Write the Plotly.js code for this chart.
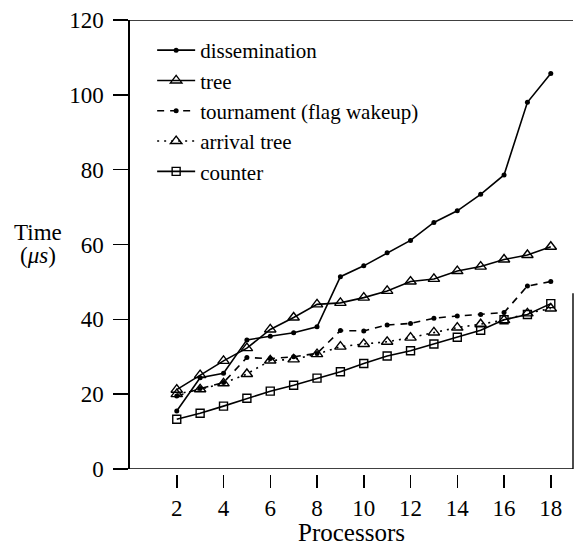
<!DOCTYPE html>
<html>
<head>
<meta charset="utf-8">
<script src="https://cdn.plot.ly/plotly-3.0.1.min.js"></script>
<style>html,body{margin:0;padding:0;background:#fff;}#chart{width:576px;height:546px;}</style>
</head>
<body>
<div id="chart"></div>
<script>
const processors = [2,3,4,5,6,7,8,9,10,11,12,13,14,15,16,17,18];
const dissemination = [15.5,24.4,25.6,34.5,35.5,36.4,38.0,51.4,54.3,57.8,61.1,65.9,69.0,73.4,78.6,98.0,105.7];
const tree = [21.2,25.1,28.9,32.3,37.3,40.5,44.0,44.4,45.8,47.6,50.1,50.8,52.9,54.1,56.0,57.2,59.4];
const tournament = [19.5,21.5,23.1,29.8,29.5,30.0,30.9,37.0,36.9,38.5,38.9,40.3,40.9,41.3,41.8,48.9,50.1];
const arrivalTree = [20.0,21.3,22.9,25.4,29.0,29.3,30.7,32.7,33.4,34.0,35.1,36.5,37.8,38.7,39.8,41.6,42.9];
const counter = [13.3,14.9,16.8,18.9,20.8,22.4,24.3,26.0,28.2,30.2,31.6,33.4,35.2,37.1,39.9,41.3,44.2];
const seriesNames = ['dissemination','tree','tournament (flag wakeup)','arrival tree','counter'];
const xTicks = [2,4,6,8,10,12,14,16,18];
const yTicks = [0,20,40,60,80,100,120];

const FONT = 'Liberation Serif';
const ink = '#000';

const traces = [
  {x: processors, y: dissemination, name: seriesNames[0], mode: 'lines+markers',
   line: {color: ink, width: 1.6}, marker: {symbol: 'circle', size: 5, color: ink}},
  {x: processors, y: tree, name: seriesNames[1], mode: 'lines+markers',
   line: {color: ink, width: 1.6}, marker: {symbol: 'triangle-up-open', size: 10, color: ink, line: {width: 1.4}}},
  {x: processors, y: tournament, name: seriesNames[2], mode: 'lines+markers',
   line: {color: ink, width: 1.6, dash: '7px,6px'}, marker: {symbol: 'circle', size: 5, color: ink}},
  {x: processors, y: arrivalTree, name: seriesNames[3], mode: 'lines+markers',
   line: {color: ink, width: 1.6, dash: '2px,5px'}, marker: {symbol: 'triangle-up-open', size: 10, color: ink, line: {width: 1.4}}},
  {x: processors, y: counter, name: seriesNames[4], mode: 'lines+markers',
   line: {color: ink, width: 1.6}, marker: {symbol: 'square-open', size: 8, color: ink, line: {width: 1.4}}}
];

const layout = {
  width: 576, height: 546,
  margin: {l: 130, r: 3, t: 20, b: 72},
  paper_bgcolor: '#fff', plot_bgcolor: '#fff',
  font: {family: FONT, size: 22, color: ink},
  showlegend: true,
  legend: {x: 0.05, y: 0.978, xanchor: 'left', yanchor: 'top', bgcolor: 'rgba(0,0,0,0)',
           font: {family: FONT, size: 21, color: ink}, tracegroupgap: 0, itemwidth: 38},
  xaxis: {range: [0, 18.95], tickvals: xTicks, ticktext: xTicks.map(String),
          ticks: 'outside', ticklen: 13, tickwidth: 1.5, tickcolor: ink,
          showline: false, showgrid: false, zeroline: false,
          anchor: 'free', position: 0,
          tickfont: {family: FONT, size: 23, color: ink},
          title: {text: 'Processors', font: {family: FONT, size: 25, color: ink}, standoff: 2}},
  yaxis: {range: [0, 120], domain: [5/454, 1], tickvals: yTicks, ticktext: yTicks.map(String),
          ticks: 'outside', ticklen: 15, tickwidth: 1.5, tickcolor: ink,
          showline: true, linecolor: ink, linewidth: 1.6,
          showgrid: false, zeroline: false, ticklabelstandoff: 5,
          tickfont: {family: FONT, size: 23, color: ink}},
  shapes: [
    {type: 'line', xref: 'paper', yref: 'y', x0: 0, x1: 1, y0: 0, y1: 0, line: {color: ink, width: 1.6}},
    {type: 'line', xref: 'paper', yref: 'y', x0: 0, x1: 1, y0: 120, y1: 120, line: {color: ink, width: 1.6}},
    {type: 'line', xref: 'paper', yref: 'y', x0: 1, x1: 1, y0: 0, y1: 47, line: {color: ink, width: 1.4}}
  ],
  annotations: [
    {xref: 'paper', yref: 'y', x: -0.208, y: 63.3, xanchor: 'center', yanchor: 'middle',
     text: 'Time', showarrow: false, font: {family: FONT, size: 23, color: ink}},
    {xref: 'paper', yref: 'y', x: -0.208, y: 57.0, xanchor: 'center', yanchor: 'middle',
     text: '(<i>μs</i>)', showarrow: false, font: {family: FONT, size: 23, color: ink}}
  ]
};

Plotly.newPlot('chart', traces, layout, {displayModeBar: false, staticPlot: true});
</script>
</body>
</html>
